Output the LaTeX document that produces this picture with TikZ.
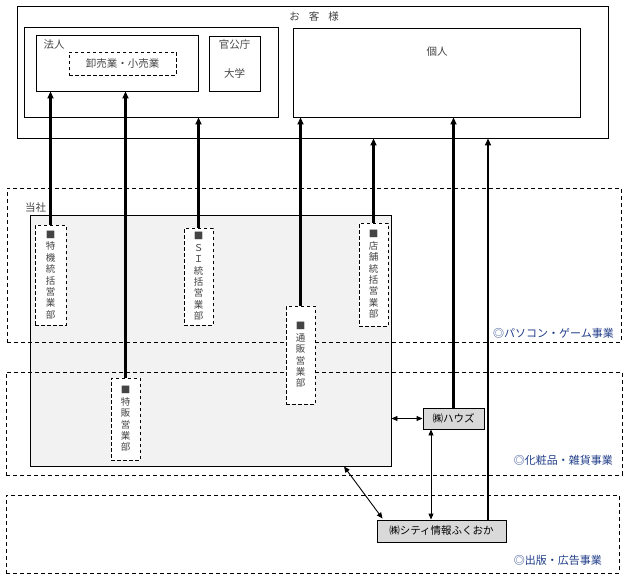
\documentclass[tikz,border=0pt]{standalone}
\usepackage{fontspec}
\setmainfont{Noto Sans CJK JP}
\usetikzlibrary{arrows.meta}
\definecolor{txtgray}{HTML}{444444}
\definecolor{navy}{HTML}{1F3C88}
\definecolor{panelfill}{HTML}{F2F2F2}
\definecolor{cobox}{HTML}{D9D9D9}
\tikzset{
  box/.style={draw, line width=0.9pt, inner sep=0pt},
  dbox/.style={draw, line width=0.9pt, dash pattern=on 3.5pt off 2.5pt, inner sep=0pt},
  region/.style={draw, line width=0.9pt, dash pattern=on 4pt off 3pt, inner sep=0pt},
  dept/.style={draw, fill=white, line width=0.9pt, dash pattern=on 3.5pt off 2.5pt,
    align=center, font=\fontsize{9.5}{11.4}\selectfont, text=txtgray, inner sep=0pt},
  lbl/.style={font=\fontsize{10.5}{12}\selectfont, text=txtgray, inner sep=0pt},
  reglbl/.style={font=\fontsize{11}{12}\selectfont, text=navy, inner sep=0pt, anchor=east},
  company/.style={draw, fill=cobox, line width=0.9pt, font=\fontsize{10.5}{12}\selectfont, inner sep=0pt},
  uparrow/.style={-{Triangle[width=6pt,length=7pt]}, line width=2.4pt},
  uparrowthin/.style={-{Triangle[width=6pt,length=7pt]}, line width=2.1pt},
  biarrow/.style={{Triangle[width=5pt,length=6pt]}-{Triangle[width=5pt,length=6pt]}, line width=0.9pt},
}
\begin{document}
\begin{tikzpicture}[x=1pt,y=-1pt]
\useasboundingbox (0,0) rectangle (628,580);
% customers
\node[box, minimum width=591pt, minimum height=132pt] (outer) at (312.5,72) {};
\node[lbl] (okyaku) at (314,17) {お\hspace{9pt}客\hspace{9pt}様};
\node[box, minimum width=254pt, minimum height=90pt] (leftgrp) at (151,72) {};
\node[box, minimum width=162pt, minimum height=56pt] (houjin) at (117,63) {};
\node[lbl] (houjinlbl) at (54,45) {法人};
\node[dbox, minimum width=107pt, minimum height=23pt, lbl] (oroshi) at (122.5,63.5) {卸売業・小売業};
\node[box, minimum width=51pt, minimum height=55pt] (kankou) at (234.5,63.5) {};
\node[lbl] (kankoulbl) at (234.5,45) {官公庁};
\node[lbl] (daigaku) at (234.5,73) {大学};
\node[box, minimum width=287pt, minimum height=89pt] (kojin) at (436.5,72.5) {};
\node[lbl] (kojinlbl) at (437,52) {個人};
% company panel
\node[draw, fill=panelfill, line width=0.9pt, minimum width=361pt, minimum height=251pt] (panel) at (210.5,340.5) {};
\node[lbl] (tousha) at (35.5,208) {当社};
% regions
\node[region, minimum width=614pt, minimum height=154pt] (r1) at (314,265) {};
\node[region, minimum width=616pt, minimum height=103pt] (r2) at (314,423.5) {};
\node[region, minimum width=613pt, minimum height=78pt] (r3) at (312.5,534) {};
\node[reglbl] (r1lbl) at (614,333) {◎パソコン・ゲーム事業};
\node[reglbl] (r2lbl) at (613,460) {◎化粧品・雑貨事業};
\node[reglbl] (r3lbl) at (602,560) {◎出版・広告事業};
% departments
\node[dept, minimum width=31pt, minimum height=100pt] (tokki) at (50.5,275) {■\\特\\機\\統\\括\\営\\業\\部};
\node[dept, minimum width=29pt, minimum height=97pt] (si) at (198.5,276.5) {■\\Ｓ\\Ｉ\\統\\括\\営\\業\\部};
\node[dept, minimum width=29pt, minimum height=103pt] (tenpo) at (373.5,274.5) {■\\店\\舗\\統\\括\\営\\業\\部};
\node[dept, minimum width=29pt, minimum height=98pt] (tsuhan) at (300.5,355) {■\\通\\販\\営\\業\\部};
\node[dept, minimum width=29pt, minimum height=82pt] (tokuhan) at (125.5,419) {■\\特\\販\\営\\業\\部};
% group companies
\node[company, minimum width=61pt, minimum height=21pt] (house) at (453.5,418.5) {㈱ハウズ};
\node[company, minimum width=129pt, minimum height=22pt] (city) at (441.5,531) {㈱シティ情報ふくおか};
% arrows to customers
\draw[uparrow] (tokki.north) -- (tokki.north |- houjin.south);
\draw[uparrow] (tokuhan.north) -- (tokuhan.north |- houjin.south);
\draw[uparrow] (si.north) -- (si.north |- leftgrp.south);
\draw[uparrow] (tsuhan.north) -- (tsuhan.north |- kojin.south);
\draw[uparrowthin] (tenpo.north) -- (tenpo.north |- outer.south);
\draw[uparrow] (house.north) -- (house.north |- kojin.south);
\coordinate (cityup) at ([xshift=46.5pt]city.north);
\draw[uparrowthin] (cityup) -- (cityup |- outer.south);
% links between companies
\draw[biarrow] (panel.east |- house.west) -- (house.west);
\coordinate (housedown) at ([xshift=-22.5pt]house.south);
\draw[biarrow] (housedown) -- (housedown |- city.north);
\coordinate (panelbot) at ([xshift=133.5pt]panel.south);
\coordinate (citytl) at ([xshift=6pt,yshift=1pt]city.north west);
\draw[biarrow] (panelbot) -- (citytl);
\end{tikzpicture}
\end{document}
